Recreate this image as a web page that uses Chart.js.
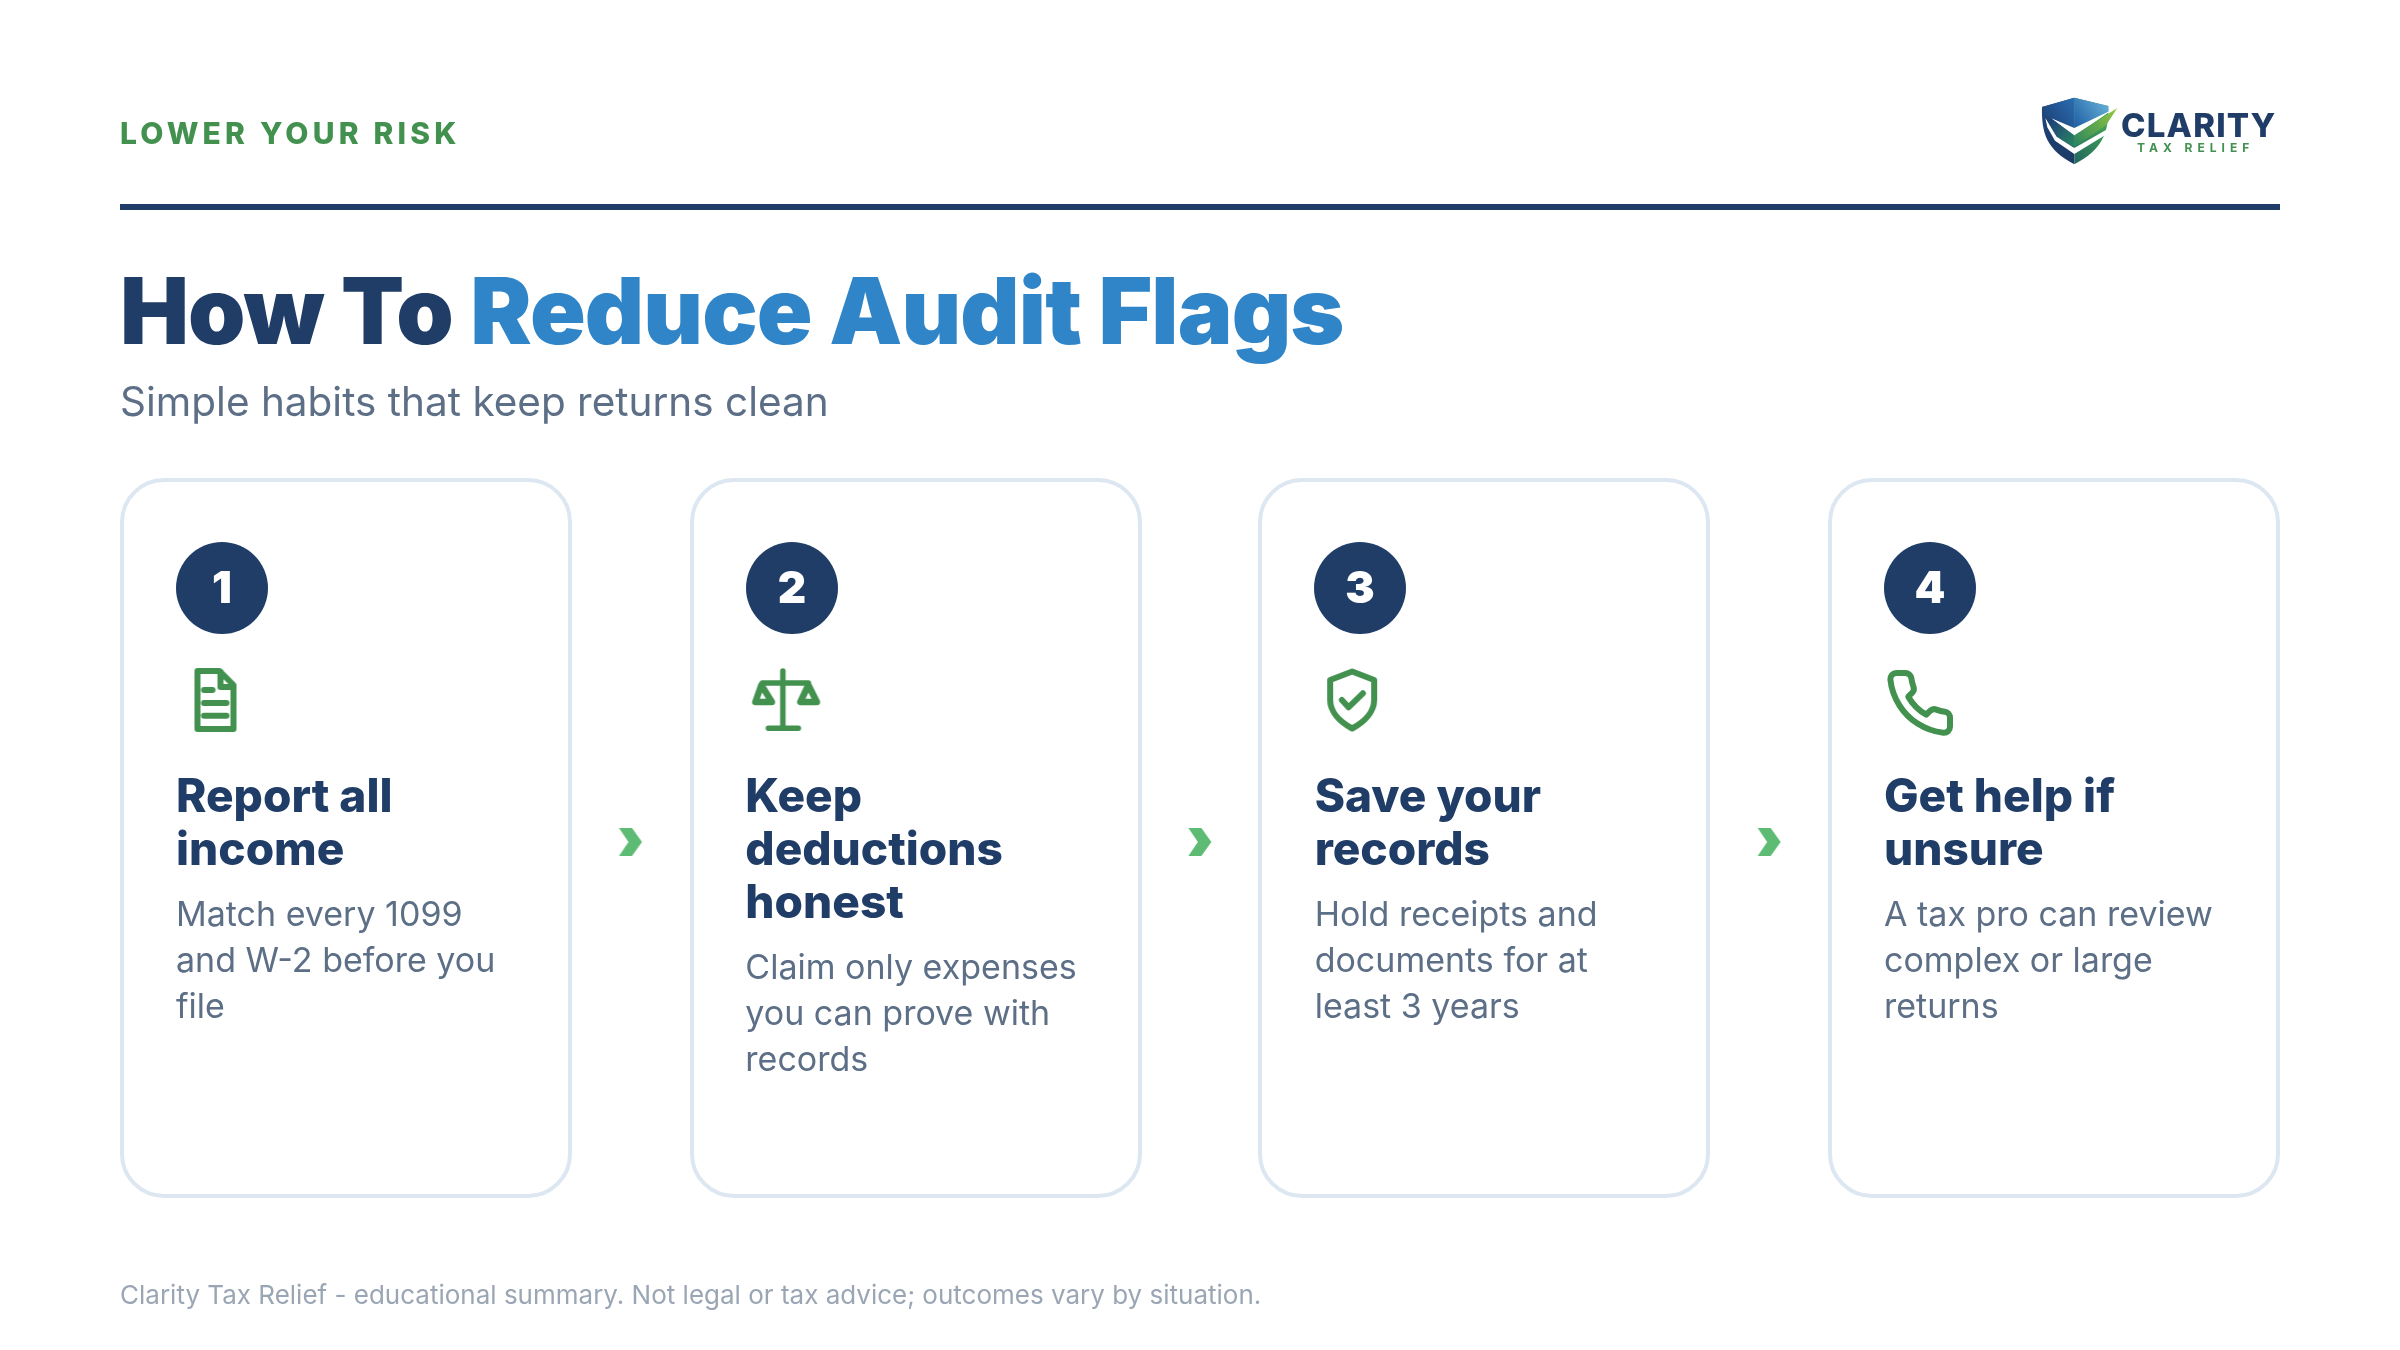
<!DOCTYPE html>
<html>
<head>
<meta charset="utf-8">
<title>How To Reduce Audit Flags</title>
<script src="https://cdn.jsdelivr.net/npm/chart.js@4/dist/chart.umd.min.js"></script>
<style>
  html, body { margin: 0; padding: 0; background: #fff; }
  #page { position: relative; width: 2400px; height: 1350px; overflow: hidden; font-family: Inter, sans-serif; }
  #chart { position: absolute; left: 0; top: 0; }
  .t { position: absolute; white-space: nowrap; }
</style>
</head>
<body>
<div id="page"><canvas id="chart" width="2400" height="1350"></canvas></div>
<script>
// Data
const stepNumbers = ['1', '2', '3', '4'];
const stepTitles = [
    ['Report all', 'income'],
    ['Keep', 'deductions', 'honest'],
    ['Save your', 'records'],
    ['Get help if', 'unsure']
];
const stepBodies = [
    ['Match every 1099', 'and W-2 before you', 'file'],
    ['Claim only expenses', 'you can prove with', 'records'],
    ['Hold receipts and', 'documents for at', 'least 3 years'],
    ['A tax pro can review', 'complex or large', 'returns']
];
const iconNames = ['doc', 'scale', 'shield', 'phone'];

// Layout, in page pixels
const NAVY = '#203d67', BLUE = '#2f85c8', GREEN = '#43914f', CHEVRON = '#5dbb74';
const cardLeft = i => 120 + i * 569.33;
const cardXs = [120, 690, 1258, 1828];
const CARD_W = 452, CARD_TOP = 478, CARD_BOTTOM = 1198;
const badgeXs = [222, 792, 1360, 1930];
const iconOffsets = [[95.5, 222], [94, 222], [93.5, 222], [92, 225]];

// Turn a drawing function into a canvas usable as pointStyle
function sprite(w, h, draw) {
    const c = document.createElement('canvas');
    c.width = w; c.height = h;
    const g = c.getContext('2d');
    g.translate(w / 2, h / 2);
    draw(g);
    return c;
}

function strokeStyle(g, lw) {
    g.strokeStyle = GREEN; g.lineWidth = lw; g.lineCap = 'round'; g.lineJoin = 'round';
}

const iconSprites = {
    doc: sprite(60, 80, g => {
        strokeStyle(g, 6);
        g.stroke(new Path2D('M-18 -29 H4 L18 -15 V29 H-18 Z'));
        g.stroke(new Path2D('M5 -28 V-13 H17 M-11.5 -10 H-3 M-11.5 3 H11 M-11.5 15.7 H11'));
    }),
    scale: sprite(90, 80, g => {
        strokeStyle(g, 5.5);
        g.stroke(new Path2D('M-0.5 -29 V28 M-15 28.3 H15 M-21 -17 H25'));
        g.lineWidth = 6.5;
        g.stroke(new Path2D('M-22 -15 L-28 2 H-11.5 Z M25 -15 L17 2 H33.5 Z'));
    }),
    shield: sprite(70, 80, g => {
        strokeStyle(g, 6);
        g.stroke(new Path2D('M0 -28.5 L22 -20 V0 C22 12 12 22 0 28.5 C-12 22 -22 12 -22 0 V-20 Z'));
        g.stroke(new Path2D('M-10.3 0 L-3.7 7.3 L10.7 -6.7'));
    }),
    phone: sprite(80, 80, g => {
        strokeStyle(g, 6);
        g.scale(3, 3);
        g.translate(-12, -12);
        g.lineWidth = 2;
        g.stroke(new Path2D('M22 16.92v3a2 2 0 0 1-2.18 2 19.79 19.79 0 0 1-8.63-3.07 19.5 19.5 0 0 1-6-6 19.79 19.79 0 0 1-3.07-8.67A2 2 0 0 1 4.11 2h3a2 2 0 0 1 2 1.72 12.84 12.84 0 0 0 .7 2.81 2 2 0 0 1-.45 2.11L8.09 9.91a16 16 0 0 0 6 6l1.27-1.27a2 2 0 0 1 2.11-.45 12.84 12.84 0 0 0 2.81.7A2 2 0 0 1 22 16.92z'));
    })
};

const chevronSprite = sprite(30, 32, g => {
    g.fillStyle = CHEVRON;
    g.fill(new Path2D('M-11.5 -14 H1.5 L11.5 0 L1.5 14 H-11.5 L-2 0 Z'));
});

// Cards, header rule and logo mark sit behind the points
const backdrop = {
    id: 'backdrop',
    beforeDatasetsDraw(chart) {
        const { ctx, scales: { x, y } } = chart;
        ctx.save();
        stepNumbers.forEach((_, i) => {
            const x0 = x.getPixelForValue(cardXs[i]) + 2;
            const y0 = y.getPixelForValue(CARD_TOP) + 2;
            ctx.beginPath();
            ctx.roundRect(x0, y0, CARD_W - 4, CARD_BOTTOM - CARD_TOP - 4, 42);
            ctx.lineWidth = 4;
            ctx.strokeStyle = '#dde7f1';
            ctx.stroke();
        });
        ctx.fillStyle = NAVY;
        ctx.fillRect(x.getPixelForValue(120), y.getPixelForValue(204), 2160, 6);
        drawLogo(ctx);
        ctx.restore();
    }
};

function drawLogo(ctx) {
    ctx.save();
    ctx.translate(2000, 70);
    ctx.scale(1 / 3, 1 / 3);
    const poly = (pts, fill) => {
        ctx.beginPath();
        pts.forEach((p, i) => i ? ctx.lineTo(p[0], p[1]) : ctx.moveTo(p[0], p[1]));
        ctx.closePath();
        ctx.fillStyle = fill;
        ctx.fill();
    };
    const grad = (x0, y0, x1, y1, a, b) => {
        const g = ctx.createLinearGradient(x0, y0, x1, y1);
        g.addColorStop(0, a); g.addColorStop(1, b);
        return g;
    };
    // shield halves
    ctx.beginPath();
    ctx.moveTo(223, 83);
    ctx.lineTo(126, 111);
    ctx.bezierCurveTo(124, 190, 140, 240, 223, 283);
    ctx.closePath();
    ctx.fillStyle = grad(150, 110, 190, 280, '#1e4478', '#1c3a66');
    ctx.fill();
    ctx.beginPath();
    ctx.moveTo(223, 83);
    ctx.lineTo(325, 108);
    ctx.bezierCurveTo(327, 190, 305, 240, 223, 283);
    ctx.closePath();
    ctx.fillStyle = grad(223, 270, 320, 190, '#23695f', '#3f9c55');
    ctx.fill();
    // top facets
    poly([[223, 83], [126, 111], [130, 140], [156, 145], [223, 174]], grad(130, 150, 223, 90, '#1d4278', '#2a6cb0'));
    poly([[223, 83], [325, 108], [325, 125], [223, 174]], grad(223, 170, 325, 100, '#1f5fa5', '#65b0d8'));
    // white wedge over the check
    poly([[154, 145], [223, 174], [340, 118], [223, 198]], '#fff');
    // band between the two white stripes
    poly([[156, 148], [223, 196], [223, 232], [175, 205], [145, 155]], grad(150, 160, 223, 225, '#1e4478', '#2b8560'));
    // lower white stripe
    poly([[136, 144], [170, 200], [223, 234], [322, 178], [321, 192], [223, 252], [165, 212], [142, 172]], '#fff');
    // check
    poly([[223, 196], [352, 114], [318, 166], [223, 232]], grad(223, 225, 352, 115, '#2b8560', '#94c83d'));
    ctx.restore();
}

new Chart(document.getElementById('chart'), {
    type: 'scatter',
    data: {
        datasets: [
            {
                label: 'steps',
                data: stepNumbers.map((_, i) => ({ x: badgeXs[i], y: 588 })),
                pointRadius: 46,
                pointHoverRadius: 46,
                pointBorderWidth: 0,
                pointBackgroundColor: NAVY
            },
            {
                label: 'icons',
                data: stepNumbers.map((_, i) => ({ x: cardLeft(i) + iconOffsets[i][0], y: 478 + iconOffsets[i][1] })),
                pointStyle: iconNames.map(n => iconSprites[n])
            },
            {
                label: 'arrows',
                data: [0, 1, 2].map(i => ({ x: cardLeft(i) + 510.5, y: 842 })),
                pointStyle: chevronSprite
            }
        ]
    },
    options: {
        responsive: false,
        animation: false,
        devicePixelRatio: 1,
        layout: { padding: 0, autoPadding: false },
        events: [],
        plugins: { legend: { display: false }, tooltip: { enabled: false }, title: { display: false } },
        scales: {
            x: { type: 'linear', display: false, min: 0, max: 2400 },
            y: { type: 'linear', display: false, reverse: true, min: 0, max: 1350 }
        }
    },
    plugins: [backdrop]
});

// Text. Baseline placement for Inter: ascent .96875, descent .2412
function place(html, x, baseline, size, lineHeight, css) {
    const el = document.createElement('div');
    el.className = 't';
    el.innerHTML = html;
    const top = baseline - ((lineHeight - 1.21 * size) / 2 + 0.96875 * size);
    el.style.cssText = `left:${x}px;top:${top}px;font-size:${size}px;line-height:${lineHeight}px;${css}`;
    document.getElementById('page').appendChild(el);
    return el;
}

place('LOWER YOUR RISK', 120, 144, 30, 40, `font-weight:800;color:${GREEN};letter-spacing:4.2px;`);
place(`How To <span style="color:${BLUE}">Reduce Audit Flags</span>`, 120, 344, 92, 110, `font-weight:900;color:${NAVY};letter-spacing:-0.88px;`);
place('Simple habits that keep returns clean', 120, 417, 40.5, 50, 'font-weight:400;color:#5c6f86;');
place('Clarity Tax Relief - educational summary. Not legal or tax advice; outcomes vary by situation.', 120, 1304.5, 26, 34, 'color:#9aa6b4;');

stepNumbers.forEach((n, i) => {
    const left = cardLeft(i) + 56;
    place(n, badgeXs[i] - 46, 603, 44, 50, 'width:92px;text-align:center;font-weight:900;color:#fff;');
    const titles = stepTitles[i];
    const firstBase = 812.4;
    place(titles.join('<br>'), left, firstBase, 46, 53, `font-weight:800;color:${NAVY};`);
    const bodyBase = 926 + (titles.length - 2) * 53;
    place(stepBodies[i].join('<br>'), left, bodyBase, 34, 46, 'color:#5c6f86;');
});

// Logo wordmark
place('CLARITY', 2121, 137, 33, 36, `font-weight:800;color:${NAVY};letter-spacing:1.2px;`);
place('TAX RELIEF', 2137, 152, 12, 14, `font-weight:700;color:${GREEN};letter-spacing:5px;`);
</script>
</body>
</html>
